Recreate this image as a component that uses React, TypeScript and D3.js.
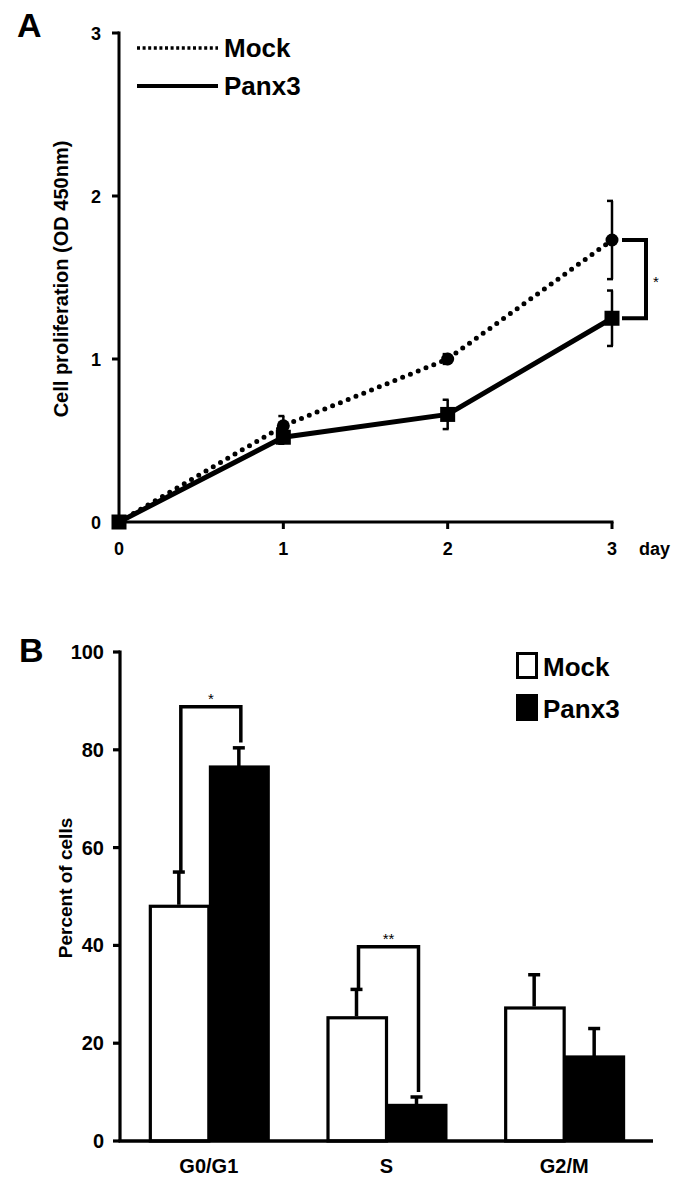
import React from "react";
import * as d3 from "d3";

// ---------- Panel A data ----------
const days = [0, 1, 2, 3];
const mockOD = [0, 0.59, 1.0, 1.73];
const mockODErr = [0, 0.06, 0.03, 0.24];
const panxOD = [0, 0.52, 0.66, 1.25];
const panxODErr = [0, 0.04, 0.09, 0.17];
const odTicks = [0, 1, 2, 3];
const seriesNames = ["Mock", "Panx3"];

// ---------- Panel B data ----------
const phases = ["G0/G1", "S", "G2/M"];
const mockPct = [48, 25.2, 27.2];
const mockPctErr = [7, 5.8, 6.8];
const panxPct = [76.5, 7.3, 17.2];
const panxPctErr = [3.9, 1.7, 5.8];
const pctTicks = [0, 20, 40, 60, 80, 100];
const sigBars = [
  { phase: 0, top: 88.8, label: "*", leftTo: 55.2, rightTo: 81.5 },
  { phase: 1, top: 39.7, label: "**", leftTo: 31.0, rightTo: 10.0 },
];

const FONT = "'Liberation Sans', Arial, Helvetica, sans-serif";

export default function App() {
  // Panel A scales
  const xA = d3.scaleLinear().domain([0, 3]).range([119, 612]);
  const yA = d3.scaleLinear().domain([0, 3]).range([522, 33]);
  const lineGen = d3
    .line<number>()
    .x((_, i) => xA(days[i]))
    .y((d) => yA(d));

  // Panel B scales
  const xB = d3.scaleBand<string>().domain(phases).range([120, 653]).paddingInner(0);
  const yB = d3.scaleLinear().domain([0, 100]).range([1141, 652]);
  const barW = 60;
  const cx = (p: string) => (xB(p) as number) + xB.bandwidth() / 2;

  const errA = (vals: number[], errs: number[], key: string) =>
    days.map((d, i) => {
      if (errs[i] === 0) return null;
      const x = xA(d);
      const y1 = yA(vals[i] + errs[i]);
      const y2 = yA(vals[i] - errs[i]);
      return (
        <g key={key + i} stroke="#000" strokeWidth={2.5} fill="none">
          <line x1={x} x2={x} y1={y1} y2={y2} />
          <line x1={x - 5} x2={x + 1} y1={y1} y2={y1} />
          <line x1={x - 5} x2={x + 1} y1={y2} y2={y2} />
        </g>
      );
    });

  return (
    <svg
      width={685}
      height={1192}
      style={{ position: "absolute", left: 0, top: 0, background: "#fff" }}
      fontFamily={FONT}
      fontWeight="bold"
    >
      <rect width={685} height={1192} fill="#fff" />
      {/* ================= Panel A ================= */}
      <text x={17} y={37} fontSize={34}>A</text>

      {/* y axis */}
      <line x1={xA(0)} x2={xA(0)} y1={yA(3) - 1.5} y2={yA(0)} stroke="#000" strokeWidth={3} />
      {odTicks.map((t) => (
        <g key={"ya" + t}>
          <line x1={xA(0) - 7} x2={xA(0)} y1={yA(t)} y2={yA(t)} stroke="#000" strokeWidth={3} />
          <text x={101} y={yA(t) + 6.5} fontSize={18} textAnchor="end">{t}</text>
        </g>
      ))}
      {/* x axis */}
      <line x1={xA(0)} x2={xA(3) + 1.5} y1={yA(0)} y2={yA(0)} stroke="#000" strokeWidth={3} />
      {days.map((d) => (
        <g key={"xa" + d}>
          <line x1={xA(d)} x2={xA(d)} y1={yA(0)} y2={yA(0) + 7} stroke="#000" strokeWidth={3} />
          <text x={xA(d)} y={555} fontSize={18} textAnchor="middle">{d}</text>
        </g>
      ))}
      <text x={639} y={555} fontSize={18}>day</text>
      <text
        transform={`translate(68,279) rotate(-90)`}
        fontSize={20}
        textAnchor="middle"
      >
        Cell proliferation (OD 450nm)
      </text>

      {/* legend A */}
      <line x1={137} x2={218} y1={48} y2={48} stroke="#000" strokeWidth={3.5} strokeDasharray="3 2.6" />
      <text x={224} y={57} fontSize={26}>{seriesNames[0]}</text>
      <line x1={137} x2={218} y1={86} y2={86} stroke="#000" strokeWidth={4} />
      <text x={224} y={95} fontSize={26}>{seriesNames[1]}</text>

      {/* lines */}
      <path
        d={lineGen(mockOD) || ""}
        fill="none"
        stroke="#000"
        strokeWidth={5}
        strokeLinecap="round"
        strokeDasharray="0 8.4"
      />
      <path d={lineGen(panxOD) || ""} fill="none" stroke="#000" strokeWidth={5} />

      {errA(mockOD, mockODErr, "em")}
      {errA(panxOD, panxODErr, "ep")}

      {/* markers */}
      {days.map((d, i) => (
        <circle key={"mc" + i} cx={xA(d)} cy={yA(mockOD[i])} r={6.5} fill="#000" />
      ))}
      {days.map((d, i) => (
        <rect key={"ps" + i} x={xA(d) - 7.5} y={yA(panxOD[i]) - 7.5} width={15} height={15} fill="#000" />
      ))}

      {/* significance bracket A */}
      <path
        d={`M${xA(3) + 10},${yA(mockOD[3])} H${xA(3) + 34} V${yA(panxOD[3])} H${xA(3) + 10}`}
        fill="none"
        stroke="#000"
        strokeWidth={4}
      />
      <text x={xA(3) + 41} y={yA((mockOD[3] + panxOD[3]) / 2) + 8} fontSize={15} fontWeight="normal">*</text>

      {/* ================= Panel B ================= */}
      <text x={19} y={662} fontSize={34}>B</text>

      {/* bars */}
      {phases.map((p, i) => (
        <g key={"bar" + p}>
          <rect
            x={cx(p) - barW + 1.5}
            y={yB(mockPct[i])}
            width={barW - 1.5}
            height={yB(0) - yB(mockPct[i])}
            fill="#fff"
            stroke="#000"
            strokeWidth={3.2}
          />
          <rect
            x={cx(p)}
            y={yB(panxPct[i]) - 1.5}
            width={barW + 1}
            height={yB(0) - yB(panxPct[i]) + 1.5}
            fill="#000"
          />
        </g>
      ))}

      {/* error bars B (upward only) */}
      {phases.map((p, i) => {
        const xm = cx(p) - barW / 2;
        const xp = cx(p) + barW / 2;
        return (
          <g key={"eb" + p} stroke="#000" strokeWidth={3.5}>
            <line x1={xm} x2={xm} y1={yB(mockPct[i]) - 1.5} y2={yB(mockPct[i] + mockPctErr[i])} />
            <line x1={xm - 6} x2={xm + 6} y1={yB(mockPct[i] + mockPctErr[i])} y2={yB(mockPct[i] + mockPctErr[i])} />
            <line x1={xp} x2={xp} y1={yB(panxPct[i])} y2={yB(panxPct[i] + panxPctErr[i])} />
            <line x1={xp - 6} x2={xp + 6} y1={yB(panxPct[i] + panxPctErr[i])} y2={yB(panxPct[i] + panxPctErr[i])} />
          </g>
        );
      })}

      {/* significance brackets B */}
      {sigBars.map((s) => {
        const p = phases[s.phase];
        const xm = cx(p) - barW / 2 + 2;
        const xp = cx(p) + barW / 2 + 2;
        return (
          <g key={"sig" + p}>
            <path
              d={`M${xm},${yB(s.leftTo)} V${yB(s.top)} H${xp} V${yB(s.rightTo)}`}
              fill="none"
              stroke="#000"
              strokeWidth={3.5}
            />
            <text x={(xm + xp) / 2} y={yB(s.top) - 3} fontSize={15} textAnchor="middle" fontWeight="normal">
              {s.label}
            </text>
          </g>
        );
      })}

      {/* axes B */}
      <line x1={120} x2={120} y1={yB(100) - 1.5} y2={yB(0)} stroke="#000" strokeWidth={3.2} />
      {pctTicks.map((t) => (
        <g key={"yb" + t}>
          <line x1={113} x2={120} y1={yB(t)} y2={yB(t)} stroke="#000" strokeWidth={3.2} />
          <text x={104} y={yB(t) + 7} fontSize={20} textAnchor="end">{t}</text>
        </g>
      ))}
      <line x1={118.5} x2={653} y1={yB(0)} y2={yB(0)} stroke="#000" strokeWidth={3.5} />
      {phases.map((p) => (
        <text key={"xl" + p} x={cx(p)} y={1173} fontSize={20} textAnchor="middle">{p}</text>
      ))}
      <text transform={`translate(72,888) rotate(-90)`} fontSize={19} textAnchor="middle">
        Percent of cells
      </text>

      {/* legend B */}
      <rect x={517.5} y={653.5} width={19} height={24} fill="#fff" stroke="#000" strokeWidth={3} />
      <text x={543} y={676} fontSize={26}>{seriesNames[0]}</text>
      <rect x={516} y={694} width={22} height={27} fill="#000" />
      <text x={543} y={718} fontSize={26}>{seriesNames[1]}</text>
    </svg>
  );
}
